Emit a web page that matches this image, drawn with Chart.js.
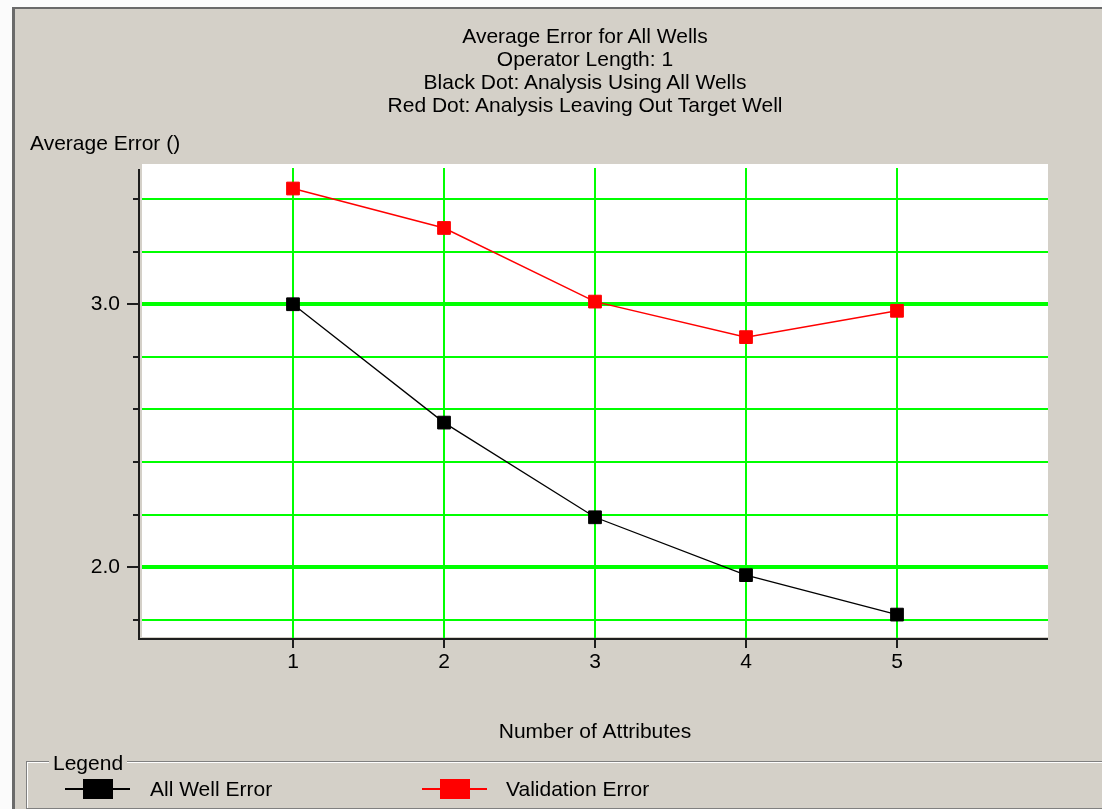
<!DOCTYPE html>
<html>
<head>
<meta charset="utf-8">
<script src="https://cdn.jsdelivr.net/npm/chart.js@4.4.1/dist/chart.umd.min.js"></script>
<style>
    html, body { margin: 0; padding: 0; background: #fbfbfb; }
    body {
        width: 1102px; height: 809px; position: relative; overflow: hidden;
        font-family: "Liberation Sans", Arial, sans-serif; font-size: 21px; color: #000;
    }
    #panel {
        position: absolute; left: 12px; top: 7px; right: 0; bottom: 0;
        background: #d4d0c8; border-left: 3px solid #6a6a6a; border-top: 2px solid #6a6a6a;
    }
    #chart { position: absolute; left: 0; top: 0; }
    .title { position: absolute; left: 285px; width: 600px; top: 24px; text-align: center; line-height: 23px; }
    .ylabel { position: absolute; left: 30px; top: 131px; line-height: 24px; }
    .group {
        position: absolute; left: 26px; top: 761px; width: 1100px; height: 46px;
        border: 1px solid #808080; box-shadow: inset 1px 1px 0 #fff, 1px 1px 0 #fff;
    }
    .group-label { position: absolute; left: 49px; top: 751px; padding: 0 4px; background: #d4d0c8; line-height: 24px; }
    .item { position: absolute; top: 777px; line-height: 24px; }
    .mark { position: absolute; top: 788px; height: 2px; width: 65px; }
    .mark span { position: absolute; left: 18px; top: -9px; width: 30px; height: 20px; }
</style>
</head>
<body>
<div id="panel"></div>
<canvas id="chart" width="1102" height="809"></canvas>
<div class="title">
    <div>Average Error for All Wells</div>
    <div>Operator Length: 1</div>
    <div>Black Dot: Analysis Using All Wells</div>
    <div>Red Dot: Analysis Leaving Out Target Well</div>
</div>
<div class="ylabel">Average Error ()</div>
<div class="group"></div>
<div class="group-label">Legend</div>
<div class="mark" style="left:65px;background:#000"><span style="background:#000"></span></div>
<div class="item" style="left:150px">All Well Error</div>
<div class="mark" style="left:422px;background:#ff0000"><span style="background:#ff0000"></span></div>
<div class="item" style="left:506px">Validation Error</div>
<script>
const attributes = [1, 2, 3, 4, 5];
const allWellError = [3.00, 2.55, 2.19, 1.97, 1.82];
const validationError = [3.44, 3.29, 3.01, 2.875, 2.975];
const yTicks = [1.8, 2.0, 2.2, 2.4, 2.6, 2.8, 3.0, 3.2, 3.4];
const yLabeled = [2.0, 3.0];
const xMin = 0, xMax = 6;
const yMin = 1.731, yMax = 3.518;

function toPoints(values) {
    return values.map((v, i) => ({ x: attributes[i], y: v }));
}

// white plot background plus the dark axis lines and tick marks
const frame = {
    id: 'frame',
    beforeDraw(chart) {
        const { ctx, chartArea: a } = chart;
        ctx.save();
        ctx.fillStyle = '#ffffff';
        ctx.fillRect(a.left, a.top - 4, a.right - a.left, a.bottom - a.top + 3);
        ctx.restore();
    },
    afterDraw(chart) {
        const { ctx, chartArea: a, scales } = chart;
        const axisX = a.left - 3;
        ctx.save();
        ctx.strokeStyle = '#1e1e1e';
        ctx.lineWidth = 2;
        ctx.beginPath();
        ctx.moveTo(axisX, a.top + 1);
        ctx.lineTo(axisX, a.bottom + 2);
        ctx.moveTo(axisX, a.bottom + 1);
        ctx.lineTo(a.right, a.bottom + 1);
        scales.y.ticks.forEach((t) => {
            const py = Math.round(scales.y.getPixelForValue(t.value));
            const len = yLabeled.includes(t.value) ? 12 : 6;
            ctx.moveTo(axisX - len, py);
            ctx.lineTo(axisX, py);
        });
        scales.x.ticks.forEach((t) => {
            const px = Math.round(scales.x.getPixelForValue(t.value));
            ctx.moveTo(px, a.bottom + 2);
            ctx.lineTo(px, a.bottom + 10);
        });
        ctx.stroke();
        ctx.restore();
    }
};

const tickFont = { family: '"Liberation Sans", Arial, sans-serif', size: 21 };

new Chart(document.getElementById('chart'), {
    type: 'line',
    data: {
        datasets: [{
            label: 'All Well Error',
            data: toPoints(allWellError),
            borderColor: '#000000',
            borderWidth: 1.3,
            pointStyle: 'rect',
            pointRadius: 9,
            pointBorderWidth: 1,
            pointBackgroundColor: '#000000',
            pointBorderColor: '#000000'
        }, {
            label: 'Validation Error',
            data: toPoints(validationError),
            borderColor: '#ff0000',
            borderWidth: 1.5,
            pointStyle: 'rect',
            pointRadius: 9,
            pointBorderWidth: 1,
            pointBackgroundColor: '#ff0000',
            pointBorderColor: '#ff0000'
        }]
    },
    options: {
        responsive: false,
        animation: false,
        layout: { padding: { left: 0, right: 54, top: 168, bottom: 0 } },
        plugins: {
            legend: { display: false },
            tooltip: { enabled: false }
        },
        scales: {
            x: {
                type: 'linear',
                min: xMin,
                max: xMax,
                afterBuildTicks: (scale) => { scale.ticks = attributes.map((v) => ({ value: v })); },
                afterFit: (scale) => { scale.height = 171; },
                border: { display: false },
                grid: { color: '#00ff00', lineWidth: 2, drawTicks: false },
                ticks: { autoSkip: false, maxRotation: 0, padding: 12, color: '#000', font: tickFont,
                         callback: (v) => String(v) },
                title: { display: true, text: 'Number of Attributes', color: '#000', font: tickFont,
                         padding: { top: 0, bottom: 64 } }
            },
            y: {
                type: 'linear',
                min: yMin,
                max: yMax,
                afterBuildTicks: (scale) => { scale.ticks = yTicks.map((v) => ({ value: v })); },
                afterFit: (scale) => { scale.width = 142; },
                border: { display: false },
                grid: {
                    color: '#00ff00',
                    lineWidth: (ctx) => (ctx.tick && yLabeled.includes(ctx.tick.value)) ? 4 : 2,
                    drawTicks: false
                },
                ticks: { autoSkip: false, padding: 22, color: '#000', font: tickFont,
                         callback: (v) => yLabeled.includes(v) ? v.toFixed(1) : '' }
            }
        }
    },
    plugins: [frame]
});
</script>
</body>
</html>
